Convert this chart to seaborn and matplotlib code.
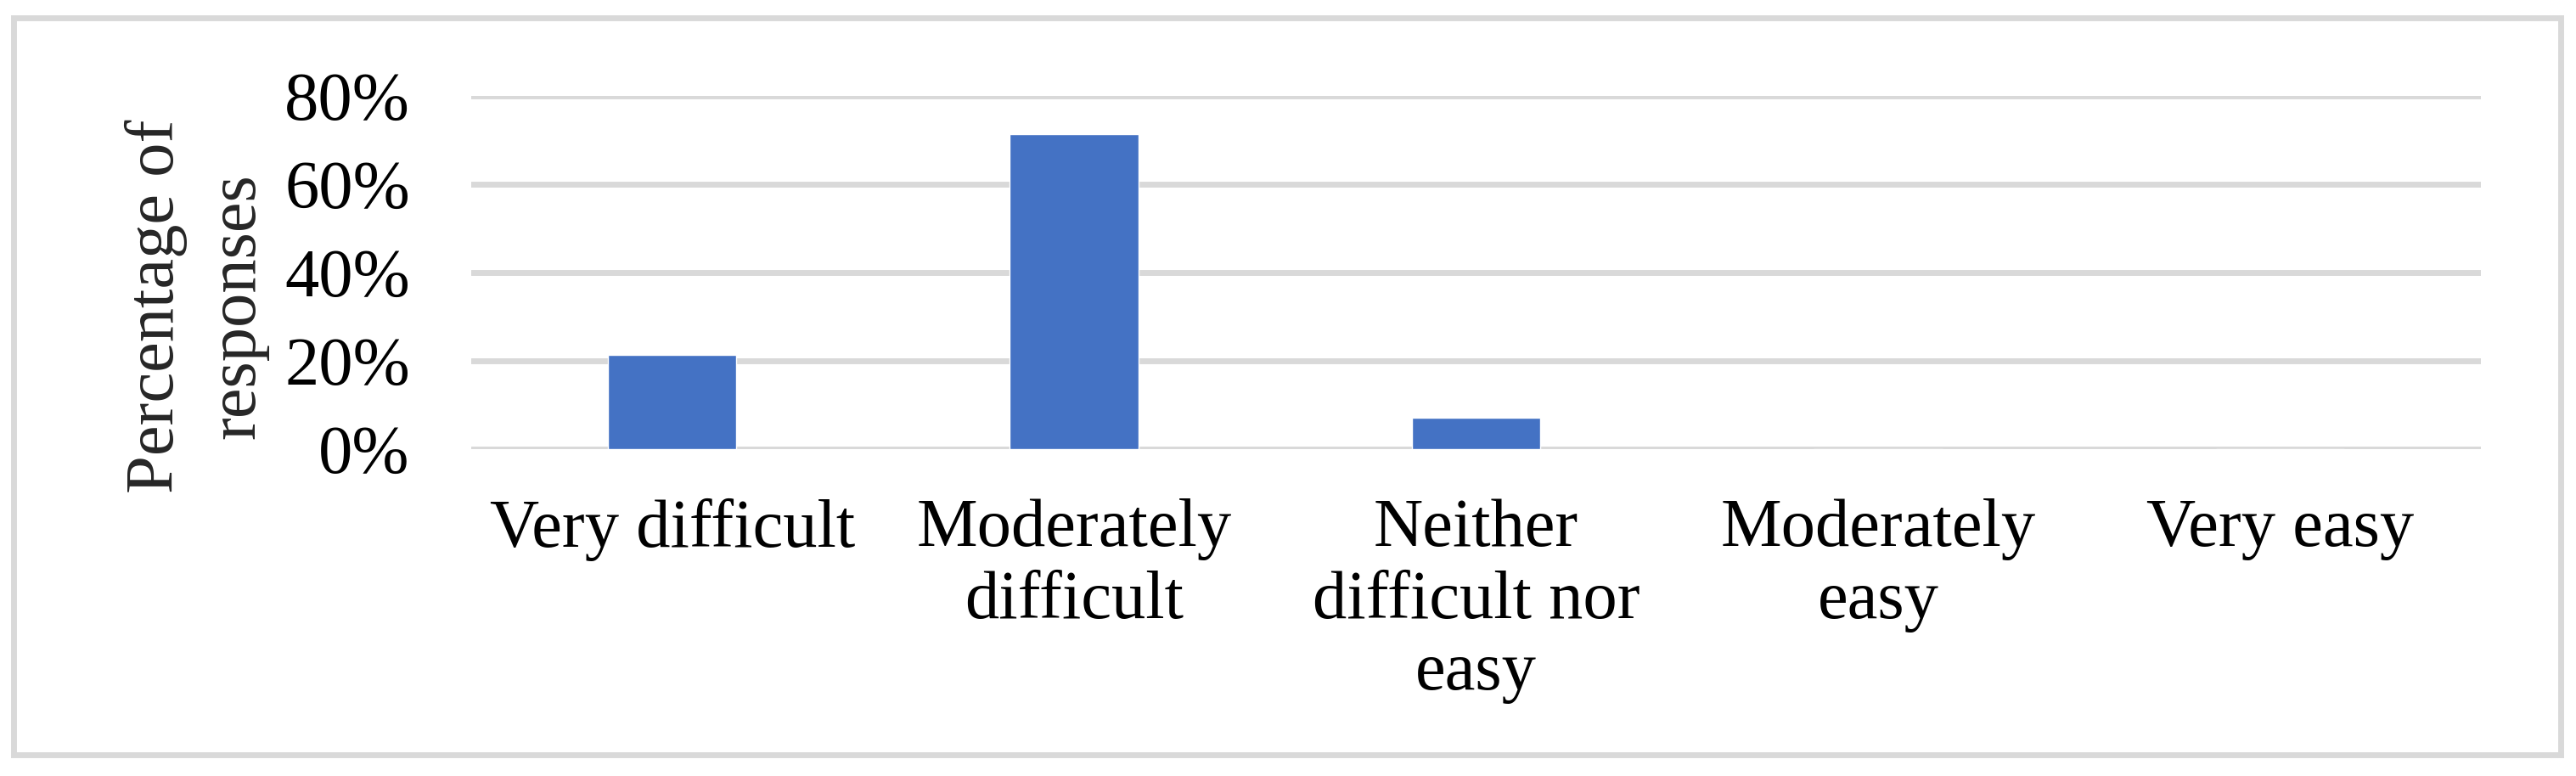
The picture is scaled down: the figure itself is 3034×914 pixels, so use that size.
import matplotlib
matplotlib.use("Agg")
import matplotlib.pyplot as plt
from matplotlib.patches import Rectangle
from matplotlib.ticker import PercentFormatter
import seaborn as sns

# survey answers (share of responses)
categories = ["Very difficult", "Moderately\ndifficult", "Neither\ndifficult nor\neasy",
              "Moderately\neasy", "Very easy"]
shares = [0.214, 0.714, 0.071, 0.0, 0.0]
y_ticks = [0.0, 0.2, 0.4, 0.6, 0.8]

sns.set_style("white")
plt.rcParams["font.family"] = ["Liberation Serif", "DejaVu Serif"]

W, H = 3034, 914
fig = plt.figure(figsize=(W / 100, H / 100), dpi=100)
ax = fig.add_axes([555 / W, 1 - 529 / H, (2922 - 555) / W, (529 - 113) / H])

sns.barplot(x=categories, y=shares, color="#4472C4", width=0.32, saturation=1, ax=ax)

ax.set_ylim(0, 0.8)
ax.set_yticks(y_ticks)
ax.yaxis.set_major_formatter(PercentFormatter(1.0, decimals=0))
ax.yaxis.grid(True, color="#D9D9D9", linewidth=5)
ax.set_axisbelow(True)
for s in ax.spines.values():
    s.set_visible(False)
ax.tick_params(axis="both", length=0, labelsize=58, colors="black")
ax.tick_params(axis="y", pad=52)
ax.tick_params(axis="x", pad=42)
plt.setp(ax.get_xticklabels(), linespacing=1.2)
ax.set_xlabel("")
ax.set_ylabel("")

fig.text(232 / W, 1 - 361 / H, "Percentage of\nresponses", rotation=90, fontsize=58,
         ha="center", va="center", multialignment="center", linespacing=1.4)

# light grey frame round the whole chart
fig.add_artist(Rectangle((15.5 / W, 1 - 889 / H), (3015.5 - 15.5) / W, (889 - 20.5) / H,
                         transform=fig.transFigure, fill=False, ec="#D9D9D9", lw=5))

fig.savefig("out.png", dpi=100, facecolor="white")
